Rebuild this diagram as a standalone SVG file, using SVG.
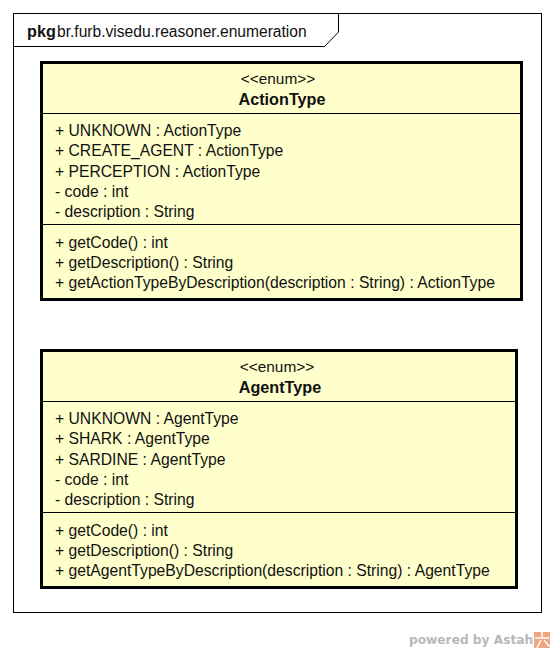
<svg xmlns="http://www.w3.org/2000/svg" width="554" height="652" viewBox="0 0 554 652">
<style>
text{font-family:"Liberation Sans",Arial,sans-serif;font-size:15.7px;fill:#111}
.b{font-weight:bold;font-size:16.2px}
.m{text-anchor:middle}
.box{fill:#ffffcc;stroke:#000;stroke-width:3}
.ln{stroke:#000;stroke-width:1;fill:none}
.s{font-size:15.4px}
.t{font-size:15.6px}
</style>
<rect width="554" height="652" fill="#fff"/>
<g id="package">
<rect x="13.500" y="13.500" width="528" height="599" fill="#fff" stroke="#000"/>
<path class="ln" d="M13.500 46.500H324.500L338.500 32V13.500"/>
<text x="27" y="36.500" class="b">pkg</text><text x="57" y="36.500" class="t">br.furb.visedu.reasoner.enumeration</text>
</g>
<g id="ActionType">
<rect class="box" x="41.500" y="62.500" width="480" height="237"/>
<path class="ln" d="M42 113.500H521M42 224.500H521"/>
<text x="278" y="84" class="m s">&lt;&lt;enum&gt;&gt;</text>
<text x="282" y="105" class="m b">ActionType</text>
<text x="55" y="135.500">+ UNKNOWN : ActionType</text>
<text x="55" y="155.500">+ CREATE_AGENT : ActionType</text>
<text x="55" y="176.500">+ PERCEPTION : ActionType</text>
<text x="55" y="196.500">- code : int</text>
<text x="55" y="216.500">- description : String</text>
<text x="55" y="247.500">+ getCode() : int</text>
<text x="55" y="267.500">+ getDescription() : String</text>
<text x="55" y="287.500">+ getActionTypeByDescription(description : String) : ActionType</text>
</g>
<g id="AgentType">
<rect class="box" x="41.500" y="350.500" width="475" height="237"/>
<path class="ln" d="M42 401.500H516M42 512.500H516"/>
<text x="277" y="372" class="m s">&lt;&lt;enum&gt;&gt;</text>
<text x="280" y="393" class="m b">AgentType</text>
<text x="55" y="423.500">+ UNKNOWN : AgentType</text>
<text x="55" y="443.500">+ SHARK : AgentType</text>
<text x="55" y="464.500">+ SARDINE : AgentType</text>
<text x="55" y="484.500">- code : int</text>
<text x="55" y="504.500">- description : String</text>
<text x="55" y="535.500">+ getCode() : int</text>
<text x="55" y="555.500">+ getDescription() : String</text>
<text x="55" y="575.500">+ getAgentTypeByDescription(description : String) : AgentType</text>
</g>
<g id="connectors"/>
<g id="watermark">
<text x="409" y="644" style="font-family:'DejaVu Sans',sans-serif;font-weight:bold;font-size:12.200px;fill:#b8b8b8">powered by Astah</text>
<rect x="534" y="632" width="16" height="16" fill="#f0a583"/>
<path d="M535 638H549M542 632V637M537 648L541 640M544 640L550 647" stroke="#fff" stroke-width="1.500" fill="none"/>
</g>
</svg>
